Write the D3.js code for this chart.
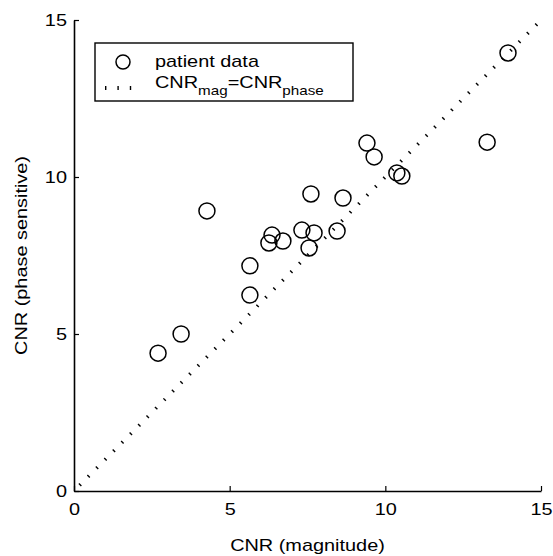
<!DOCTYPE html>
<html>
<head>
<meta charset="utf-8">
<script src="https://cdn.jsdelivr.net/npm/d3@7"></script>
<style>
  body { margin: 0; background: #fff; }
  text { font-family: "Liberation Sans", Arial, Helvetica, sans-serif; fill: #000; }
</style>
</head>
<body>
<svg id="chart"></svg>
<script>
// values
const cnrMag   = [2.70, 3.44, 4.27, 5.65, 5.65, 6.26, 6.36, 6.71, 7.32, 7.55, 7.61, 7.71, 8.45, 8.64, 9.41, 9.64, 10.37, 10.53, 13.27, 13.94]
const cnrPhase = [4.39, 5.00, 8.92, 6.24, 7.17, 7.90, 8.15, 7.96, 8.31, 7.74, 9.46, 8.22, 8.28, 9.33, 11.08, 10.64, 10.13, 10.03, 11.11, 13.95]
const tickVals = [0, 5, 10, 15]
const identity = [0, 15]   // CNR_mag = CNR_phase line

const width = 553, height = 556
const margin = {left: 74, top: 20, right: 12, bottom: 65}
const stretch = 1.17   // the scanned lettering is wider than normal Helvetica

const svg = d3.select("#chart")
  .attr("width", width)
  .attr("height", height)

const x = d3.scaleLinear().domain([0, 15]).range([margin.left, width - margin.right])
const y = d3.scaleLinear().domain([0, 15]).range([height - margin.bottom, margin.top])

const points = cnrMag.map((m, i) => ({mag: m, phase: cnrPhase[i]}))

// axes, ticks pointing inward like the matlab original
svg.append("g")
  .attr("transform", `translate(0,${y(0)})`)
  .call(d3.axisBottom(x).tickValues(tickVals).tickSizeInner(-5).tickSizeOuter(0).tickPadding(12))
svg.append("g")
  .attr("transform", `translate(${x(0)},0)`)
  .call(d3.axisLeft(y).tickValues(tickVals).tickSizeInner(-5).tickSizeOuter(0).tickPadding(6))

svg.selectAll(".domain").attr("stroke", "#000").attr("stroke-width", 1.6)
svg.selectAll(".tick line").attr("stroke", "#000").attr("stroke-width", 1.2)
svg.selectAll(".tick text")
  .style("font-size", "17px")
  .style("font-family", "'Liberation Sans', Arial, sans-serif")
  .attr("transform", `scale(${stretch},1)`)

// dotted identity line: short ticks across the line
const line = d3.line().x(d => x(d)).y(d => y(d))
svg.append("path")
  .datum(identity)
  .attr("d", line)
  .attr("fill", "none")
  .attr("stroke", "#000")
  .attr("stroke-width", 3.5)
  .attr("stroke-dasharray", "1.4,10.6")
  .attr("stroke-dashoffset", -8)

// patient data
svg.append("g")
  .selectAll("circle")
  .data(points)
  .join("circle")
  .attr("cx", d => x(d.mag))
  .attr("cy", d => y(d.phase))
  .attr("r", 8)
  .attr("fill", "none")
  .attr("stroke", "#000")
  .attr("stroke-width", 1.5)

function label(px, py, rot) {
  return svg.append("text")
    .attr("transform", `translate(${px},${py}) rotate(${rot}) scale(${stretch},1)`)
    .style("font-size", "17px")
}

// axis titles
label((x(0) + x(15)) / 2, 551, 0)
  .attr("text-anchor", "middle")
  .text("CNR (magnitude)")

label(27, (y(0) + y(15)) / 2, -90)
  .attr("text-anchor", "middle")
  .text("CNR (phase sensitive)")

// legend
const legend = svg.append("g")
legend.append("rect")
  .attr("x", 95).attr("y", 43)
  .attr("width", 258).attr("height", 58)
  .attr("fill", "#fff")
  .attr("stroke", "#000")
  .attr("stroke-width", 1.4)

legend.append("circle")
  .attr("cx", 123).attr("cy", 62).attr("r", 7)
  .attr("fill", "none").attr("stroke", "#000").attr("stroke-width", 1.5)

legend.append("line")
  .attr("x1", 105).attr("x2", 140)
  .attr("y1", 88).attr("y2", 88)
  .attr("stroke", "#000")
  .attr("stroke-width", 4)
  .attr("stroke-dasharray", "1.4,11")

label(155, 67, 0).text("patient data")

const eq = label(155, 88, 0)
eq.append("tspan").text("CNR")
eq.append("tspan").attr("dy", 7).style("font-size", "13px").text("mag")
eq.append("tspan").attr("dy", -7).text("=CNR")
eq.append("tspan").attr("dy", 7).style("font-size", "13px").text("phase")
</script>
</body>
</html>
